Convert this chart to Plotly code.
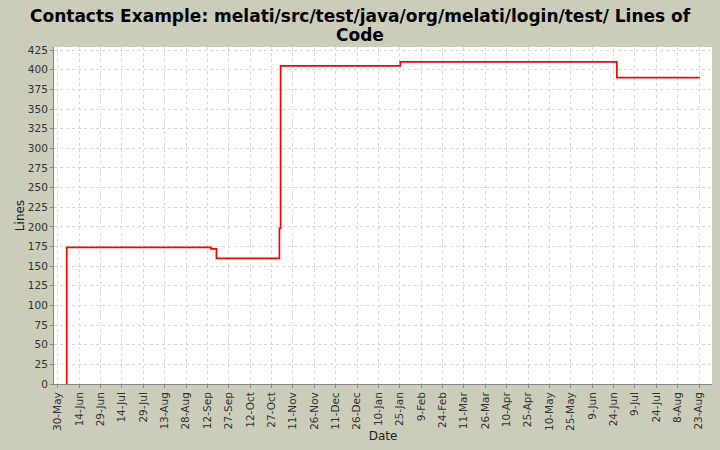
import plotly.graph_objects as go

dates = [
    "2005-06-05 00:00", "2005-06-05 06:00", "2005-09-14 12:00", "2005-09-18 08:00",
    "2005-11-01 12:00", "2005-11-02 08:00", "2006-01-25 08:00", "2006-06-26 08:00",
    "2006-08-23 12:00",
]
lines = [0, 174, 172, 160, 198, 405, 410, 390, 390]

title_lines = ["Contacts Example: melati/src/test/java/org/melati/login/test/ Lines of", "Code"]
title_y = [434, 415]  # px from bottom of figure for each title line centre

fig = go.Figure()
fig.add_trace(go.Scatter(
    x=dates, y=lines, mode="lines", line_shape="hv",
    line=dict(color="#FF0000", width=1.7), showlegend=False,
))

annotations = [
    dict(text="<b>" + t + "</b>", xref="paper", yref="paper", x=(360 - 54) / 658,
         y=(yy - 66) / 337, xanchor="center", yanchor="middle", showarrow=False,
         font=dict(family="DejaVu Sans", size=17, color="#000000"))
    for t, yy in zip(title_lines, title_y)
]

grid = "#D8D8D8"
fig.update_layout(
    width=720, height=450,
    paper_bgcolor="#CCCCBB", plot_bgcolor="#FFFFFF",
    margin=dict(l=54, r=8, t=47, b=66, autoexpand=False),
    font=dict(family="DejaVu Sans", size=10, color="#333333"),
    annotations=annotations,
)
fig.update_xaxes(
    type="date", range=["2005-05-27 08:00", "2006-09-01 02:00"], automargin=False,
    tick0="2005-05-30", dtick=15 * 86400000, tickformat="%-d-%b",
    tickangle=-90, ticks="outside", ticklen=3, tickcolor="#888888",
    showgrid=True, gridcolor=grid, griddash="3px,3px", gridwidth=1,
    showline=True, linecolor="#888888", mirror=False,
    title=dict(text="Date", font=dict(size=12, color="#222222"), standoff=1),
    tickfont=dict(size=10.5, color="#333333"),
)
fig.update_yaxes(
    range=[0, 429], dtick=25, tick0=0, automargin=False,
    ticks="outside", ticklen=3, tickcolor="#888888",
    showgrid=True, gridcolor=grid, griddash="3px,3px", gridwidth=1,
    showline=True, linecolor="#888888", zeroline=False,
    title=dict(text="Lines", font=dict(size=12, color="#222222"), standoff=0),
    tickfont=dict(size=10.5, color="#333333"),
)
fig.write_html("out.html", config={"displayModeBar": False},
               post_script="document.body.style.margin='0';document.body.style.background='#CCCCBB';")
